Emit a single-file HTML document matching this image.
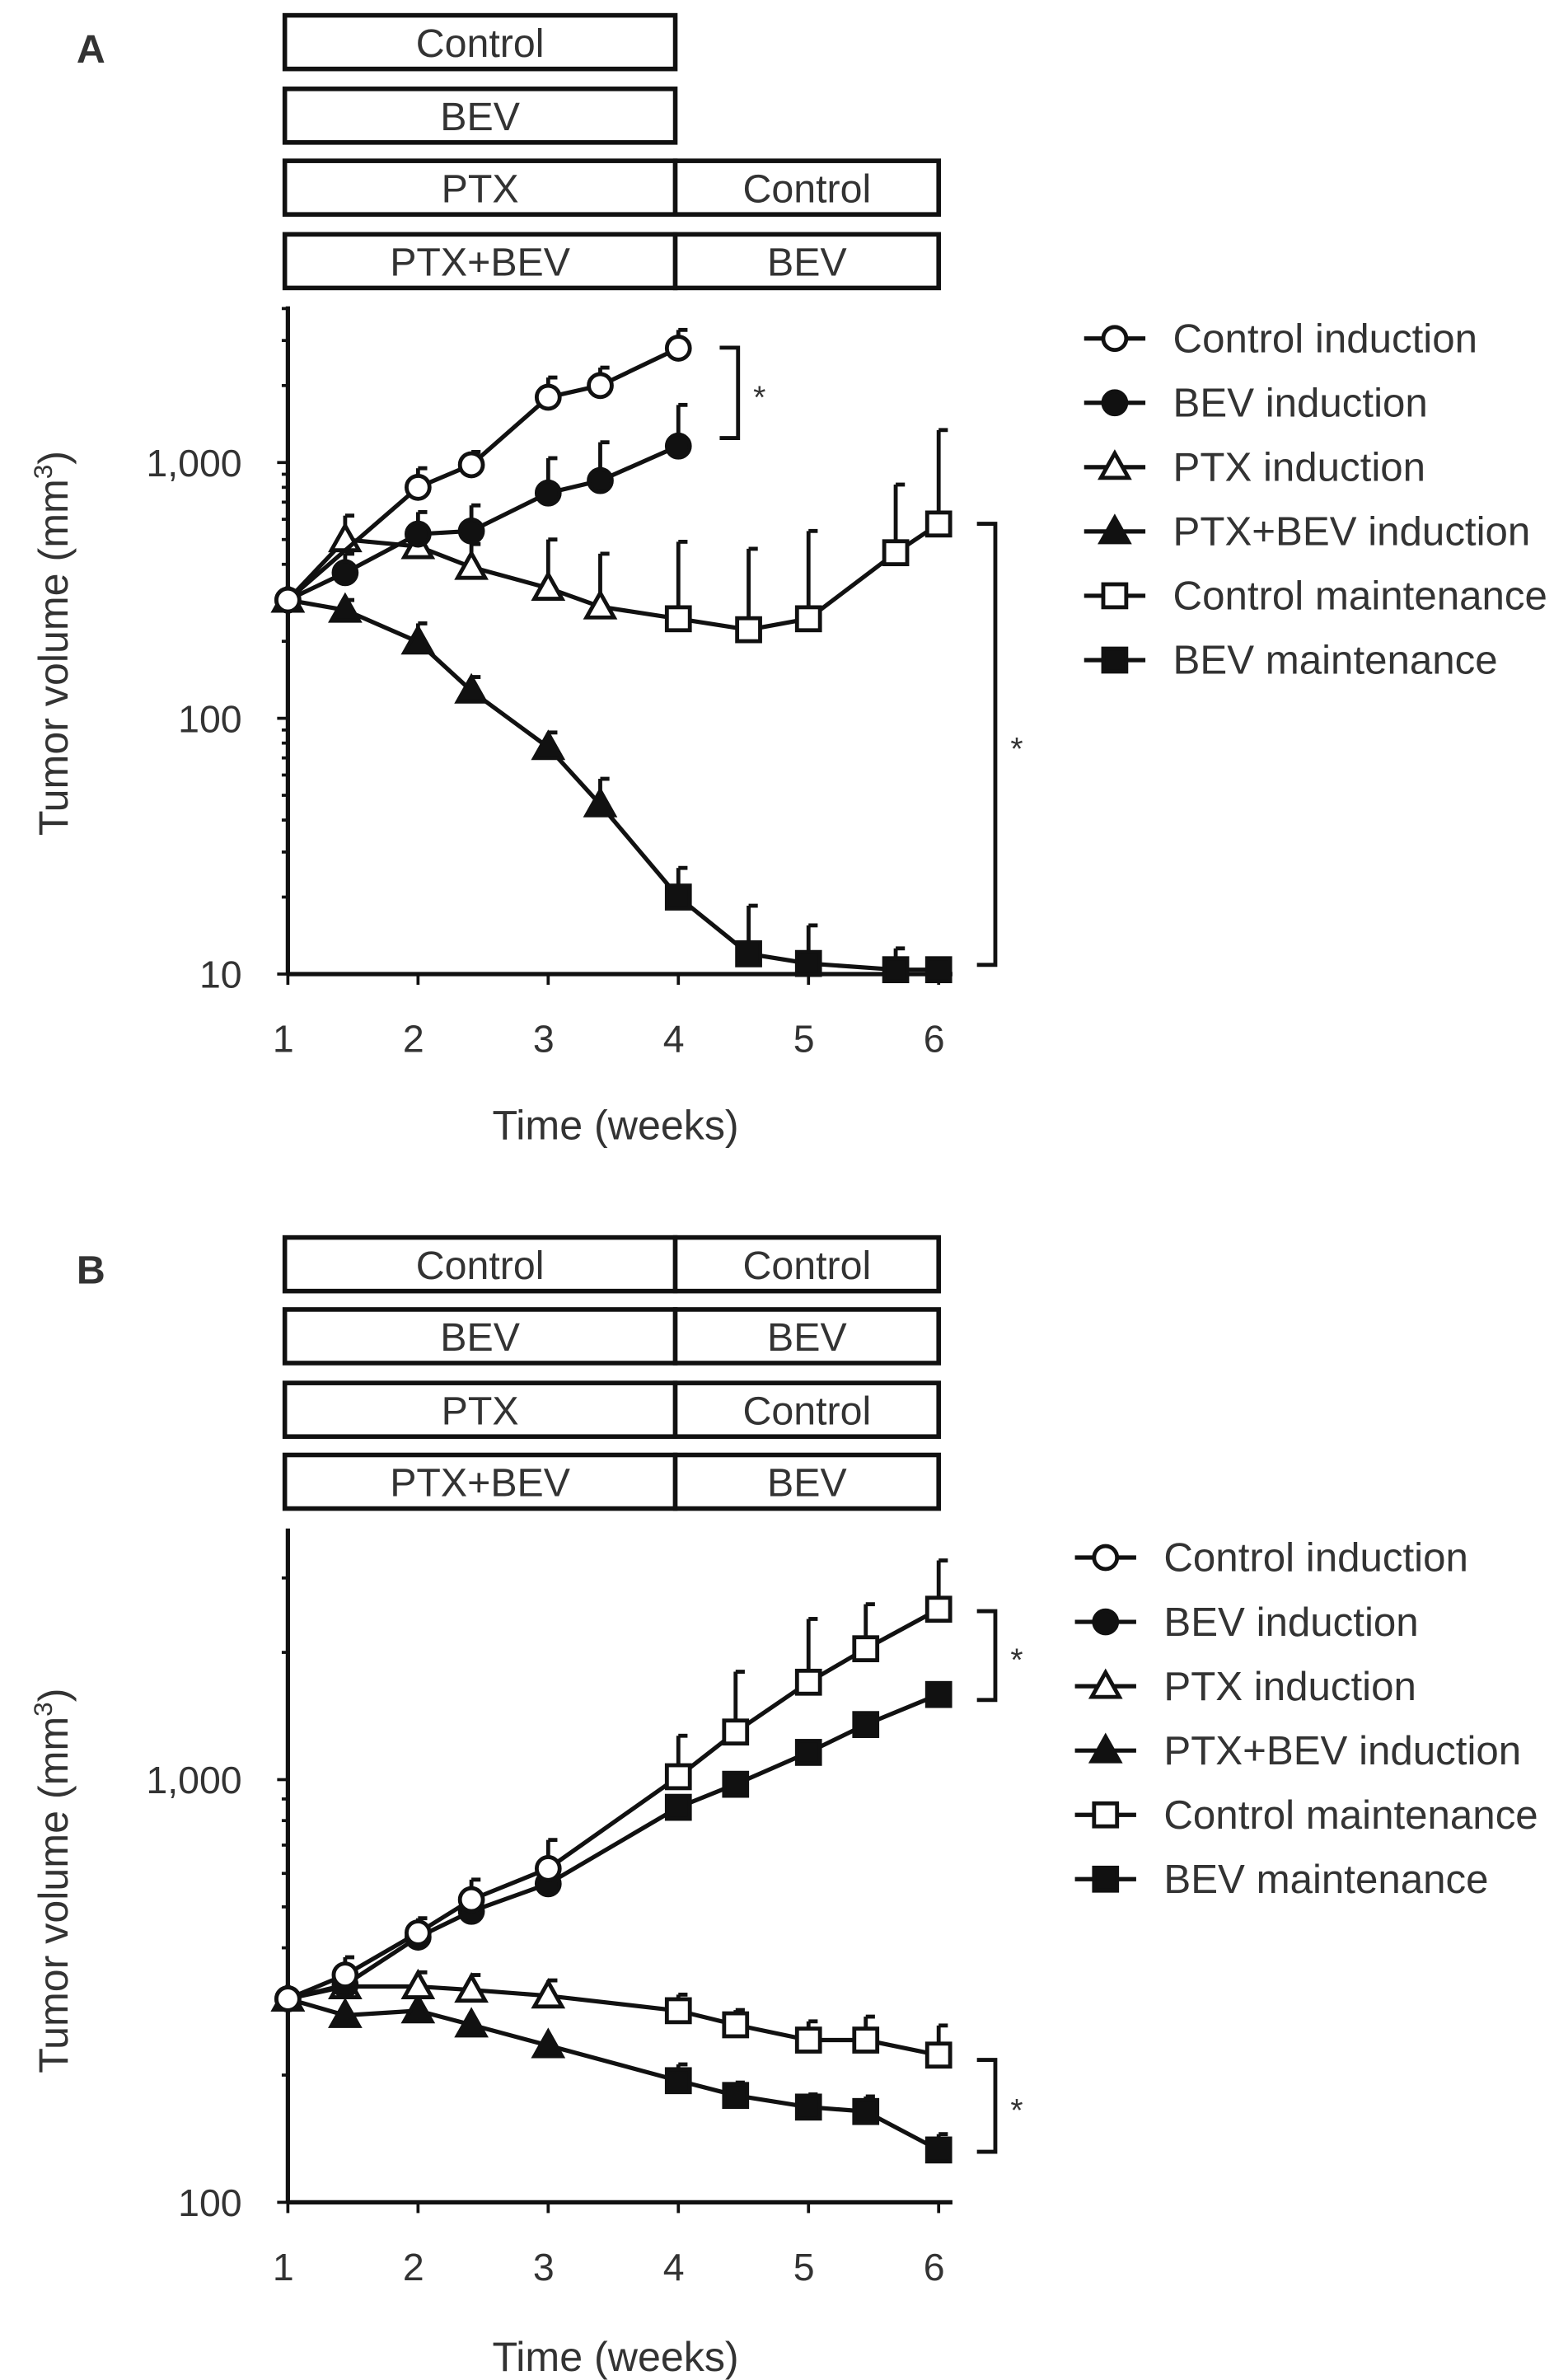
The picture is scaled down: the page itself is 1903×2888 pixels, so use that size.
<!DOCTYPE html>
<html><head><meta charset="utf-8"><style>
html,body{margin:0;padding:0;background:#fff}
svg{display:block}
text{font-family:"Liberation Sans",sans-serif;fill:#333}
</style></head><body>
<svg id="fig" width="1903" height="2888" viewBox="0 0 1024 1554" xmlns="http://www.w3.org/2000/svg">
<text x="50" y="41" font-size="26" font-weight="bold">A</text>
<text x="50" y="838" font-size="26" font-weight="bold">B</text>
<g id="g"></g>
</svg>
<script>
// ---- Panel A data ----
const aCtrlIndT=[1,2,2.41,3,3.4,4];
const aCtrlIndV=[290,800,980,1800,2000,2800];
const aCtrlIndE=[290,950,1100,2150,2350,3300];
const aBevIndT=[1,1.44,2,2.41,3,3.4,4];
const aBevIndV=[290,371,525,540,760,850,1160];
const aBevIndE=[290,440,640,680,1040,1200,1680];
const aPtxIndT=[1,1.44,2,2.41,3,3.4];
const aPtxIndV=[290,500,470,390,323,273];
const aPtxIndE=[290,620,560,480,500,440];
const aPbIndT=[1,1.44,2,2.41,3,3.4];
const aPbIndV=[290,265,199,128,77,46];
const aPbIndE=[290,290,235,145,88,58];
const aCtrlMT=[4,4.54,5,5.67,6];
const aCtrlMV=[245,222,245,444,575];
const aCtrlME=[490,460,540,820,1340];
const aBevMT=[4,4.54,5,5.67,6];
const aBevMV=[20,12,11,10.4,10.4];
const aBevME=[26,18.5,15.5,12.6,10.4];
// ---- Panel B data ----
const bIndT=[1,1.44,2,2.41,3];
const bMT=[4,4.44,5,5.44,6];
const bCtrlIndV=[303,345,434,520,616];
const bCtrlIndE=[303,380,470,580,720];
const bCtrlMV=[1016,1296,1700,2040,2530];
const bCtrlME=[1270,1800,2400,2600,3300];
const bBevIndV=[303,327,424,488,567];
const bBevMV=[860,975,1160,1350,1590];
const bPtxIndV=[303,324,324,318,308];
const bPtxIndE=[303,345,350,345,335];
const bPtxMV=[284,263,242,242,223];
const bPtxME=[310,285,268,275,262];
const bPbIndV=[303,277,284,263,235];
const bPbMV=[194,179,168,164,133];
const bPbME=[212,192,180,178,145];

const NS="http://www.w3.org/2000/svg";
const G=document.getElementById('g');
function el(tag,attrs,parent){const e=document.createElementNS(NS,tag);for(const k in attrs)e.setAttribute(k,attrs[k]);(parent||G).appendChild(e);return e;}
function txt(x,y,s,size,anchor,name){const t=el('text',{x:x,y:y,'font-size':size,'text-anchor':anchor||'start'});t.textContent=s;


return t;}

const xA=t=>188+(t-1)*85, yA=v=>636-(Math.log10(v)-1)*167;
const xB=t=>188+(t-1)*85, yB=v=>1438-(Math.log10(v)-2)*276;

function box(x1,x2,y,label,name){const r=el('rect',{x:x1,y:y,width:x2-x1,height:35,fill:'#fff',stroke:'#111','stroke-width':3});


txt((x1+x2)/2,y+27,label,26,'middle',name+'-label');}
box(186,441,10,'Control','a-box-control');
box(186,441,58,'BEV','a-box-bev');
box(186,441,105,'PTX','a-box-ptx');box(441,613,105,'Control','a-box-ptx-maint');
box(186,441,153,'PTX+BEV','a-box-ptxbev');box(441,613,153,'BEV','a-box-ptxbev-maint');
box(186,441,808,'Control','b-box-control');box(441,613,808,'Control','b-box-control-maint');
box(186,441,855,'BEV','b-box-bev');box(441,613,855,'BEV','b-box-bev-maint');
box(186,441,903,'PTX','b-box-ptx');box(441,613,903,'Control','b-box-ptx-maint');
box(186,441,950,'PTX+BEV','b-box-ptxbev');box(441,613,950,'BEV','b-box-ptxbev-maint');

function axes(p,xf,yf,top,bot,decs,ylabels){
  const ax=el('line',{x1:188,y1:top,x2:188,y2:bot,stroke:'#111','stroke-width':2.8});
  
  const bx=el('line',{x1:188,y1:bot,x2:622,y2:bot,stroke:'#111','stroke-width':2.8});
  
  decs.forEach(d=>{for(let m=1;m<10;m++){const v=d*m;const y=yf(v);if(y<top-1)break;
    el('line',{x1:m==1?181:184,y1:y,x2:188,y2:y,stroke:'#111','stroke-width':2});}});
  ylabels.forEach(([v,s])=>txt(158,yf(v)+9,s,25,'end',p+'-y-tick-'+v));
  for(let t=1;t<=6;t++){el('line',{x1:xf(t),y1:bot,x2:xf(t),y2:bot+7,stroke:'#111','stroke-width':2});
    txt(xf(t)-3,bot+51,String(t),25,'middle',p+'-x-tick-'+t);}
}
axes('a',xA,yA,200,636,[10,100,1000],[[10,'10'],[100,'100'],[1000,'1,000']]);
axes('b',xB,yB,998,1438,[100,1000],[[100,'100'],[1000,'1,000']]);
txt(402,744,'Time (weeks)',27,'middle','a-x-axis-title');
txt(402,1548,'Time (weeks)',27,'middle','b-x-axis-title');
function ytitle(y,name){const t=txt(0,0,'',27,'middle',name);t.setAttribute('transform','translate(44,'+y+') rotate(-90)');
t.innerHTML='Tumor volume (mm<tspan dy="-10" font-size="17">3</tspan><tspan dy="10">)</tspan>';}
ytitle(420,'a-y-axis-title');ytitle(1228,'b-y-axis-title');

function marker(type,x,y,name){let m;
  if(type=='oc'||type=='fc')m=el('circle',{cx:x,cy:y,r:7.5,fill:type=='fc'?'#111':'#fff',stroke:'#111','stroke-width':2.6});
  else if(type=='ot'||type=='ft')m=el('polygon',{points:`${x},${y-9} ${x+9},${y+7} ${x-9},${y+7}`,fill:type=='ft'?'#111':'#fff',stroke:'#111','stroke-width':2.6});
  else m=el('rect',{x:x-7.5,y:y-7.5,width:15,height:15,fill:type=='fs'?'#111':'#fff',stroke:'#111','stroke-width':2.6});
  
  }
function series(name,xf,yf,segs){
  const pts=[];segs.forEach(s=>s.t.forEach((t,i)=>pts.push([xf(t),yf(s.v[i])])));
  segs.forEach(s=>{if(!s.e)return;s.t.forEach((t,i)=>{const x=xf(t),y1=yf(s.v[i]),y2=yf(s.e[i]);if(y1-y2<2)return;
    const e=el('line',{x1:x,y1:y1,x2:x,y2:y2,stroke:'#111','stroke-width':2.6});
    
    
    el('line',{x1:x,y1:y2,x2:x+6,y2:y2,stroke:'#111','stroke-width':2.6});});});
  const l=el('polyline',{points:pts.map(p=>p.join(',')).join(' '),fill:'none',stroke:'#111','stroke-width':2.8});
  
  
  segs.forEach(s=>s.t.forEach((t,i)=>marker(s.m,xf(t),yf(s.v[i]),name+'-point')));
}
series('a-ptx',xA,yA,[{t:aPtxIndT,v:aPtxIndV,e:aPtxIndE,m:'ot'},{t:aCtrlMT,v:aCtrlMV,e:aCtrlME,m:'os'}]);
series('a-ptxbev',xA,yA,[{t:aPbIndT,v:aPbIndV,e:aPbIndE,m:'ft'},{t:aBevMT,v:aBevMV,e:aBevME,m:'fs'}]);
series('a-bev',xA,yA,[{t:aBevIndT,v:aBevIndV,e:aBevIndE,m:'fc'}]);
series('a-control',xA,yA,[{t:aCtrlIndT,v:aCtrlIndV,e:aCtrlIndE,m:'oc'}]);
series('b-ptxbev',xB,yB,[{t:bIndT,v:bPbIndV,m:'ft'},{t:bMT,v:bPbMV,e:bPbME,m:'fs'}]);
series('b-ptx',xB,yB,[{t:bIndT,v:bPtxIndV,e:bPtxIndE,m:'ot'},{t:bMT,v:bPtxMV,e:bPtxME,m:'os'}]);
series('b-bev',xB,yB,[{t:bIndT,v:bBevIndV,m:'fc'},{t:bMT,v:bBevMV,m:'fs'}]);
series('b-control',xB,yB,[{t:bIndT,v:bCtrlIndV,e:bCtrlIndE,m:'oc'},{t:bMT,v:bCtrlMV,e:bCtrlME,m:'os'}]);

function bracket(x,y1,y2,name){const p=el('polyline',{points:`${x-12},${y1} ${x},${y1} ${x},${y2} ${x-12},${y2}`,fill:'none',stroke:'#111','stroke-width':2.6});


txt(x+14,(y1+y2)/2+10,'*',21,'middle',name+'-star');}
bracket(482,227,286,'a-bracket-induction');
bracket(650,342,630,'a-bracket-maintenance');
bracket(650,1052,1110,'b-bracket-upper');
bracket(650,1345,1405,'b-bracket-lower');

const legLabels=['Control induction','BEV induction','PTX induction','PTX+BEV induction','Control maintenance','BEV maintenance'];
const legTypes=['oc','fc','ot','ft','os','fs'];
function legend(p,x,y0){legLabels.forEach((s,i)=>{const y=y0+i*42;
  el('line',{x1:x-20,y1:y,x2:x+20,y2:y,stroke:'#111','stroke-width':2.8});
  marker(legTypes[i],x,y,p+'-legend-marker-'+i);
  txt(x+38,y+9,s,26.5,'start',p+'-legend-entry-'+i);});}
legend('a',728,221);
legend('b',722,1017);
</script>
</body></html>
